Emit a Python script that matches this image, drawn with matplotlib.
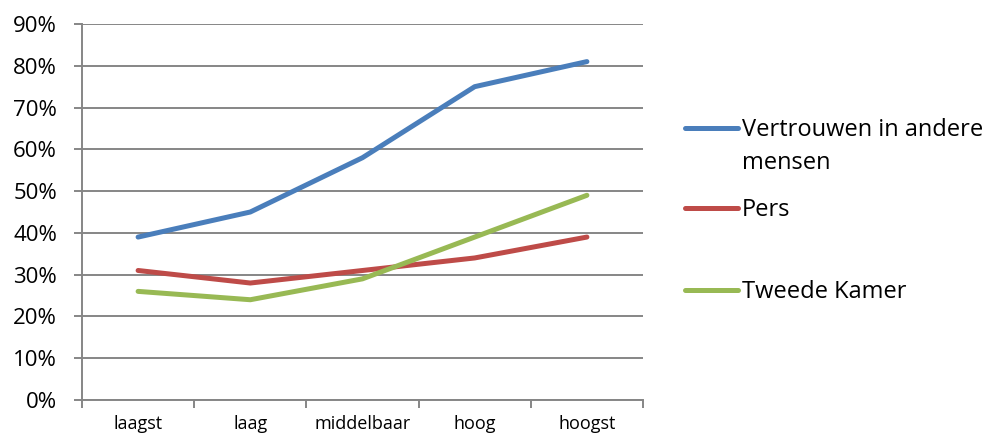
import numpy as np
import matplotlib.pyplot as plt
from matplotlib.lines import Line2D
from matplotlib.ticker import FixedLocator

plt.rcParams['font.family'] = ['Open Sans', 'DejaVu Sans']

# Data
categorieen = ["laagst", "laag", "middelbaar", "hoog", "hoogst"]
vertrouwen = [39, 45, 58, 75, 81]
pers = [31, 28, 31, 34, 39]
tweede_kamer = [26, 24, 29, 39, 49]
y_ticks = [0, 10, 20, 30, 40, 50, 60, 70, 80, 90]

kleur_blauw = "#4A7EBB"
kleur_rood = "#BE4B48"
kleur_groen = "#98B954"
grijs = "#868686"

fig = plt.figure(figsize=(9.84, 4.36), dpi=100)
ax = fig.add_axes([82 / 984, 36 / 436, (643 - 82) / 984, (400 - 24) / 436])

x = np.arange(1, len(categorieen) + 1)
lw = 3.6
ax.plot(x, vertrouwen, color=kleur_blauw, lw=lw, solid_capstyle="round")
ax.plot(x, pers, color=kleur_rood, lw=lw, solid_capstyle="round")
ax.plot(x, tweede_kamer, color=kleur_groen, lw=lw, solid_capstyle="round")

ax.set_xlim(0.5, len(categorieen) + 0.5)
ax.set_ylim(0, 90)

# y-as
ax.set_yticks(y_ticks)
ax.set_yticklabels([f"{v}%" for v in y_ticks], fontsize=16)
ax.yaxis.grid(True, color=grijs, lw=1.4)
ax.tick_params(axis="y", length=6, width=1.4, color=grijs, pad=12)

# x-as: streepjes tussen categorieen, labels in het midden
ax.xaxis.set_major_locator(FixedLocator(np.arange(0.5, len(categorieen) + 1)))
ax.xaxis.set_minor_locator(FixedLocator(x))
ax.set_xticklabels([], minor=False)
ax.set_xticklabels(categorieen, minor=True, fontsize=13)
ax.tick_params(axis="x", which="major", length=6, width=1.4, color=grijs)
ax.tick_params(axis="x", which="minor", length=0, pad=11)

for s in ["top", "right"]:
    ax.spines[s].set_visible(False)
for s in ["left", "bottom"]:
    ax.spines[s].set_color(grijs)
    ax.spines[s].set_linewidth(1.4)
ax.set_axisbelow(True)

# legenda
legenda = [
    (kleur_blauw, "Vertrouwen in andere\nmensen", 128),
    (kleur_rood, "Pers", 208),
    (kleur_groen, "Tweede Kamer", 290),
]
for kleur, tekst, ypix in legenda:
    yf = 1 - ypix / 436
    fig.add_artist(Line2D([685 / 984, 738 / 984], [yf, yf], color=kleur,
                          lw=lw, solid_capstyle="round"))
    fig.text(742 / 984, yf + 10 / 436, tekst, fontsize=17, va="top",
             ha="left", linespacing=1.5)

fig.savefig("out.png", dpi=100)
